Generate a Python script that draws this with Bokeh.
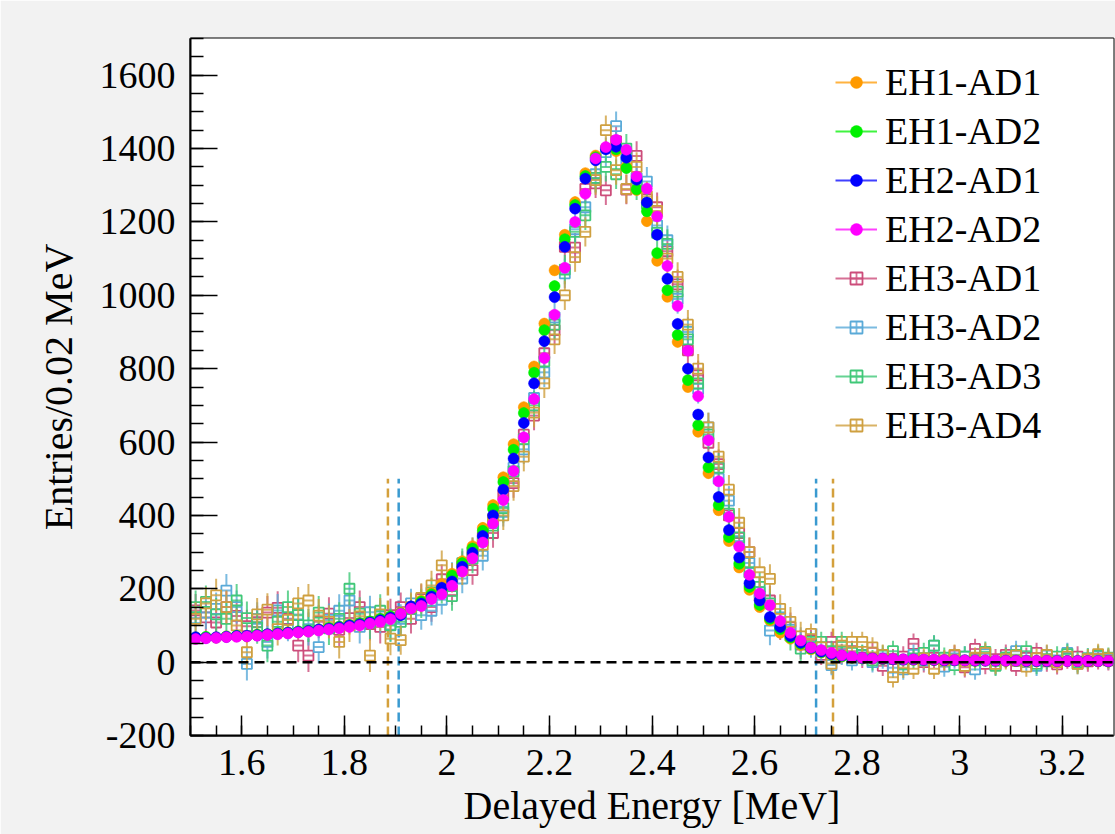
from bokeh.plotting import figure
from bokeh.models import (Range1d, SingleIntervalTicker, CustomJSTickFormatter, Legend,
                          LegendItem, Span, ColumnDataSource, BoxAnnotation)
from bokeh.embed import file_html
from bokeh.resources import INLINE

# ---------------- data ----------------
bin_width = 0.02
energy = [round(1.51 + bin_width * i, 2) for i in range(90)]   # bin centres [MeV]

names = ["EH1-AD1", "EH1-AD2", "EH2-AD1", "EH2-AD2",
         "EH3-AD1", "EH3-AD2", "EH3-AD3", "EH3-AD4"]
colors = ["#ff9a00", "#00f000", "#0000ff", "#ff00ff",
          "#cc4c7a", "#5aaad8", "#40c878", "#cfa040"]
markers = ["circle", "circle", "circle", "circle",
           "square", "square", "square", "square"]

eh1_ad1 = [66, 67, 67, 70, 71, 71, 74, 75, 78, 81,
           83, 84, 88, 92, 96, 100, 105, 110, 116, 124,
           135, 150, 168, 189, 213, 241, 275, 316, 366, 428,
           504, 594, 695, 806, 923, 1068, 1165, 1254, 1333, 1381,
           1402, 1393, 1351, 1287, 1202, 1094, 996, 873, 750, 628,
           515, 414, 330, 258, 197, 150, 114, 80, 64, 47,
           35, 26, 20, 15, 12, 10, 9, 8, 8, 7,
           6, 6, 5, 5, 5, 4, 4, 4, 4, 3,
           3, 3, 3, 3, 3, 3, 2, 3, 2, 2]
eh1_ad2 = [67, 69, 67, 70, 72, 71, 75, 76, 79, 81,
           84, 86, 89, 93, 97, 101, 106, 111, 118, 125,
           133, 147, 165, 185, 200, 236, 270, 310, 358, 418,
           491, 579, 679, 789, 905, 1025, 1153, 1246, 1325, 1376,
           1401, 1398, 1347, 1289, 1229, 1115, 1014, 892, 769, 646,
           531, 428, 341, 268, 205, 156, 118, 90, 67, 50,
           37, 27, 21, 16, 12, 11, 10, 9, 8, 7,
           7, 6, 6, 5, 5, 5, 4, 4, 4, 4,
           3, 3, 3, 3, 3, 3, 3, 2, 2, 2]
eh2_ad1 = [68, 66, 68, 69, 71, 72, 73, 76, 78, 80,
           82, 85, 89, 91, 95, 100, 103, 108, 114, 121,
           128, 152, 160, 179, 203, 220, 260, 298, 344, 400,
           470, 555, 652, 760, 875, 995, 1132, 1236, 1318, 1368,
           1398, 1405, 1375, 1315, 1253, 1165, 1045, 922, 800, 675,
           558, 450, 360, 285, 215, 168, 123, 96, 71, 53,
           39, 29, 22, 18, 13, 11, 10, 9, 8, 7,
           7, 6, 6, 5, 5, 5, 4, 4, 4, 4,
           4, 3, 3, 3, 3, 3, 3, 3, 3, 2]
eh2_ad2 = [63, 65, 66, 68, 69, 70, 72, 74, 76, 78,
           81, 83, 86, 89, 92, 96, 100, 105, 110, 117,
           132, 146, 153, 172, 185, 208, 247, 283, 326, 378,
           442, 521, 613, 717, 829, 947, 1075, 1200, 1277, 1373,
           1404, 1424, 1397, 1324, 1291, 1215, 1080, 971, 849, 725,
           605, 493, 396, 315, 238, 187, 155, 112, 80, 59,
           40, 33, 25, 19, 15, 12, 10, 10, 9, 8,
           8, 7, 7, 6, 6, 5, 5, 5, 5, 4,
           4, 4, 4, 4, 3, 3, 3, 3, 3, 3]
eh3_ad1 = [141, 122, 108, 150, 126, 98, 109, 135, 148, 118,
           45, 18, 110, 132, 88, 120, 150, 104, 96, 128,
           150, 118, 172, 150, 226, 196, 262, 251, 340, 352,
           455, 488, 620, 672, 842, 905, 1132, 1130, 1290, 1305,
           1286, 1420, 1288, 1380, 1262, 1240, 1120, 1030, 850, 782,
           598, 540, 400, 352, 300, 180, 168, 100, 95, 48,
           60, 20, 55, 22, 30, 12, 25, -10, 8, 15,
           50, 0, 12, 2, 18, -14, 36, -5, 8, 20,
           -10, 12, 25, 2, -6, 10, 15, 2, 8, 5]
eh3_ad2 = [120, 135, 145, 195, 150, -5, 118, 55, 141, 102,
           130, 90, 41, 115, 140, 168, 96, 136, 124, 102,
           118, 160, 128, 140, 170, 232, 228, 300, 290, 380,
           410, 530, 580, 720, 790, 940, 1060, 1180, 1240, 1330,
           1390, 1461, 1370, 1320, 1310, 1190, 1150, 990, 900, 745,
           640, 500, 440, 330, 270, 190, 86, 122, 88, 55,
           40, 30, -8, 20, 5, 18, 0, 10, -15, -20,
           20, 5, 45, -12, 10, 15, -20, 22, -8, 12,
           30, 0, -10, 18, 5, 25, -5, 10, 15, 8]
eh3_ad3 = [150, 164, 130, 118, 168, 120, 95, 45, 110, 150,
           128, 100, 135, 92, 118, 200, 132, 108, 140, 100,
           110, 145, 160, 190, 200, 180, 270, 282, 330, 372,
           420, 520, 608, 700, 820, 920, 1070, 1173, 1218, 1320,
           1350, 1330, 1400, 1300, 1250, 1170, 1140, 1010, 880, 760,
           620, 530, 405, 340, 245, 205, 160, 105, 72, 37,
           55, 55, 30, 55, 25, 20, 5, 18, 30, -5,
           10, 25, 45, 12, -8, 15, 5, 28, -10, 12,
           20, 30, -5, 8, 15, 22, 0, 10, 18, 12]
eh3_ad4 = [118, 160, 182, 150, 100, 27, 130, 143, 90, 115,
           160, 168, 127, 110, 55, 100, 125, 18, 130, 64,
           60, 150, 175, 209, 264, 230, 250, 300, 320, 390,
           400, 480, 560, 680, 760, 880, 1000, 1104, 1173, 1314,
           1450, 1341, 1290, 1350, 1270, 1230, 1100, 1050, 920, 800,
           640, 560, 470, 380, 300, 245, 227, 145, 110, 70,
           77, 40, -4, 45, 55, 55, 40, 20, -41, -15,
           -18, 10, -18, 5, 20, -10, 12, 25, -5, 8,
           18, -12, 10, 20, 0, 15, -5, 8, 22, 10]
values = [eh1_ad1, eh1_ad2, eh2_ad1, eh2_ad2, eh3_ad1, eh3_ad2, eh3_ad3, eh3_ad4]

# statistical uncertainties (per bin)
err_near = [15] * 60 + [8] * 30
err_far = [45] * 20 + [40] * 40 + [28] * 30
errors = [err_near] * 4 + [err_far] * 4

# selection cut lines
cut_x = [1.885, 1.906, 2.72, 2.753]
cut_colors = ["#d4a03c", "#3a9ad0", "#3a9ad0", "#d4a03c"]
cut_top = 500

# ---------------- figure ----------------
x_min, x_max = 1.5, 3.3
y_min, y_max = -200, 1700
W, H = 1115, 834
ML, MR, MT, MB = 190, 2, 38, 99
frame_h = H - MT - MB

FONT = "Liberation Serif"

p = figure(width=W, height=H, output_backend="svg", toolbar_location=None,
           x_range=Range1d(x_min, x_max), y_range=Range1d(y_min, y_max),
           min_border_left=ML, min_border_right=MR, min_border_top=MT, min_border_bottom=MB,
           background_fill_color="white", border_fill_color="#f2f2f2")
p.xgrid.visible = False
p.ygrid.visible = False
p.outline_line_color = "black"
p.outline_line_width = 2

# white slide area (page background is light gray at top/left)
p.add_layout(BoxAnnotation(left=20, right=W, top=26, bottom=H,
                           left_units="canvas", right_units="canvas",
                           top_units="canvas", bottom_units="canvas",
                           fill_color="white", fill_alpha=1.0, line_alpha=0,
                           level="underlay", editable=False))

p.xaxis.ticker = SingleIntervalTicker(interval=0.2, num_minor_ticks=4)
p.yaxis.ticker = SingleIntervalTicker(interval=200, num_minor_ticks=4)
p.xaxis.formatter = CustomJSTickFormatter(code="return (Math.round(tick*100)/100).toString();")
p.yaxis.formatter = CustomJSTickFormatter(code="return Math.round(tick).toString();")

for ax in (p.xaxis[0], p.yaxis[0]):
    ax.major_tick_out = 0
    ax.minor_tick_out = 0
    ax.major_tick_line_width = 1.5
    ax.minor_tick_line_width = 1.5
    ax.axis_line_width = 2
    ax.major_label_text_font = FONT
    ax.major_label_text_font_size = "38px"
    ax.major_label_text_color = "black"
    ax.axis_label_text_font = FONT
    ax.axis_label_text_font_size = "40px"
    ax.axis_label_text_font_style = "normal"
    ax.axis_label_text_color = "black"

p.xaxis.major_tick_in = 20
p.xaxis.minor_tick_in = 10
p.yaxis.major_tick_in = 27
p.yaxis.minor_tick_in = 13
p.xaxis.major_label_standoff = 14
p.yaxis.major_label_standoff = 15
p.xaxis.axis_label = "Delayed Energy [MeV]"
p.yaxis.axis_label = "Entries/0.02 MeV"
p.xaxis.axis_label_standoff = 5
p.yaxis.axis_label_standoff = 16

# zero line
p.add_layout(Span(location=0, dimension="width", line_color="black",
                  line_width=2.5, line_dash="10 6"))

# cut lines
p.segment(x0=cut_x, y0=[y_min] * 4, x1=cut_x, y1=[cut_top] * 4,
          line_color=cut_colors, line_width=2.5, line_dash="9 5")

# gap of the square marker (5 px) in data units
gap = 5.0 * (y_max - y_min) / frame_h

legend_parts = {}
draw_order = [4, 5, 6, 7, 0, 1, 2, 3]
for k in draw_order:
    y = values[k]
    e = errors[k]
    col = colors[k]
    src = ColumnDataSource(dict(
        x=energy, y=y,
        xl=[xx - bin_width / 2 for xx in energy], xr=[xx + bin_width / 2 for xx in energy],
        ylo=[a - b for a, b in zip(y, e)], yhi=[a + b for a, b in zip(y, e)],
        yin_lo=[a - gap for a in y], yin_hi=[a + gap for a in y]))
    if markers[k] == "circle":
        hr = p.segment("xl", "y", "xr", "y", source=src, line_color=col, line_width=2, line_alpha=0.75)
        p.segment("x", "ylo", "x", "yhi", source=src, line_color=col, line_width=2, line_alpha=0.75)
        mr = p.scatter("x", "y", source=src, marker="circle", size=11,
                       fill_color=col, line_color=col, line_width=0.5)
        legend_parts[k] = [hr, mr]
    else:
        hr = p.segment("xl", "y", "xr", "y", source=src, line_color=col, line_width=2, line_alpha=0.8)
        p.segment("x", "yin_hi", "x", "yhi", source=src, line_color=col, line_width=2, line_alpha=0.8)
        p.segment("x", "ylo", "x", "yin_lo", source=src, line_color=col, line_width=2, line_alpha=0.8)
        mr = p.scatter("x", "y", source=src, marker="square", size=10,
                       fill_color=None, line_color=col, line_width=1.8)
        cr = p.scatter("x", "y", source=src, marker="cross", size=0,
                       line_color=col, line_width=1.8, line_alpha=0.8)
        legend_parts[k] = [hr, mr, cr]

items = [LegendItem(label=names[k], renderers=legend_parts[k]) for k in range(8)]
legend = Legend(items=items, location=(635, 278), glyph_width=42, glyph_height=30,
                label_standoff=8, spacing=5, padding=10,
                label_text_font=FONT, label_text_font_size="38px",
                label_text_color="black",
                border_line_alpha=0, background_fill_alpha=0)
p.add_layout(legend)

open("out.html", "w").write(file_html(p, INLINE))
